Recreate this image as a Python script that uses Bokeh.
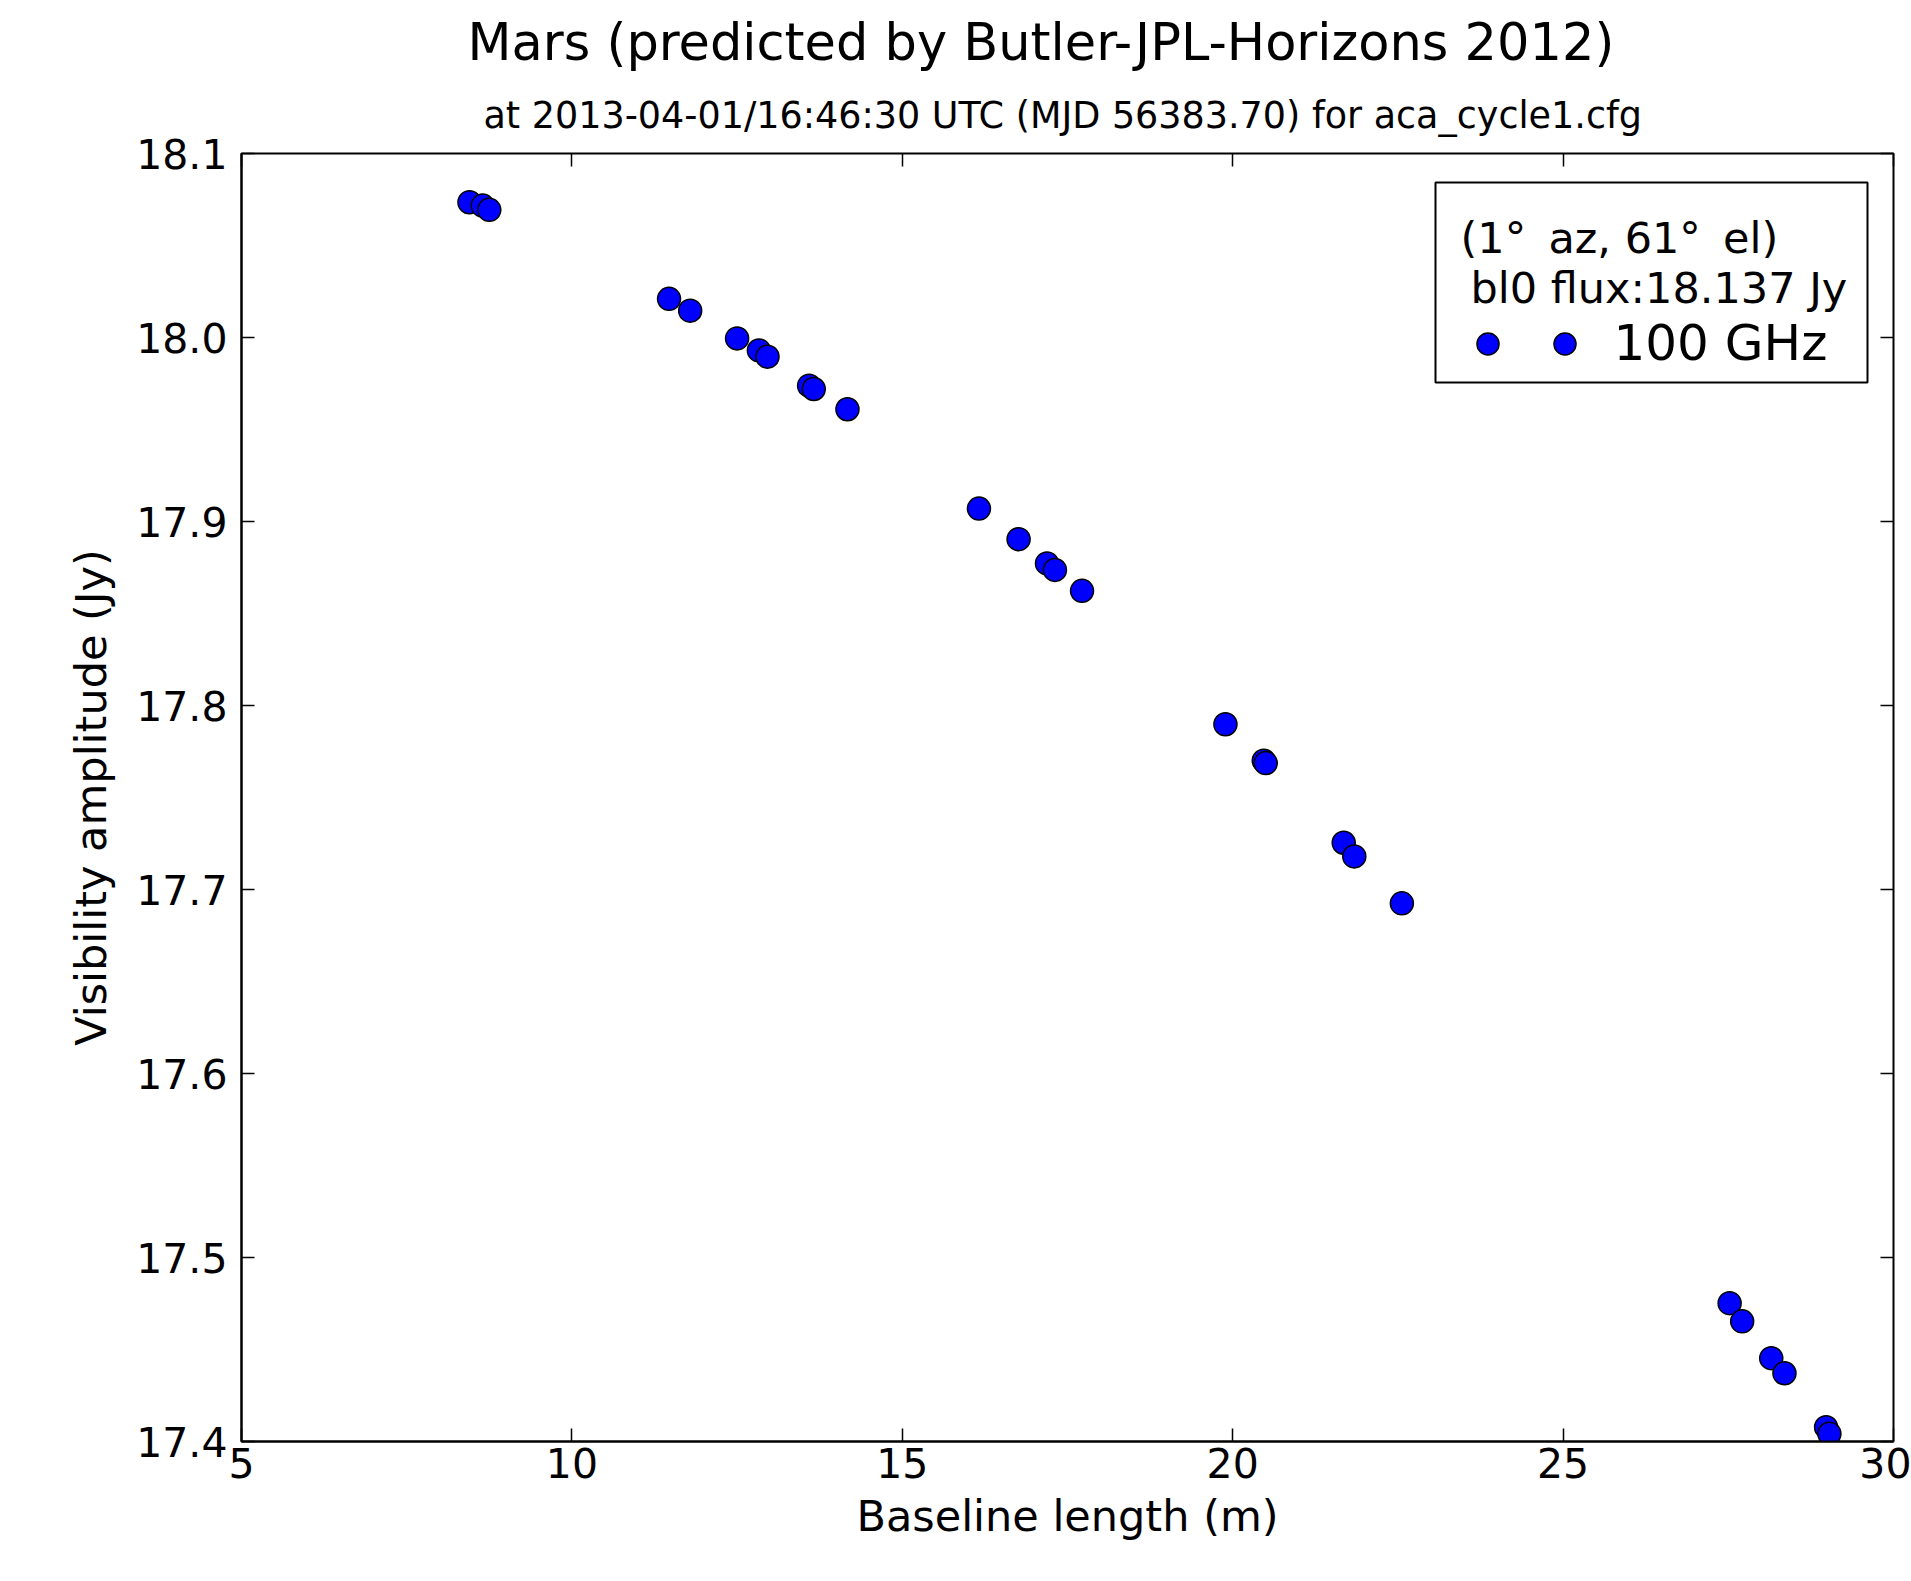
from bokeh.plotting import figure
from bokeh.models import (Range1d, FixedTicker, PrintfTickFormatter, LinearAxis, Title,
                          Legend, LegendItem, ColumnDataSource, Label, BoxAnnotation)
from bokeh.embed import file_html
from bokeh.resources import INLINE

# ---- data ----
baseline_m = [8.45, 8.65, 8.75, 11.47, 11.79, 12.50, 12.83, 12.96, 13.59, 13.66, 14.17,
              16.16, 16.76, 17.19, 17.31, 17.72, 19.89, 20.47, 20.50, 21.68, 21.84, 22.56,
              27.52, 27.71, 28.15, 28.35, 28.98, 29.03]
amp_jy = [18.0735, 18.0717, 18.0694, 18.0210, 18.0146, 17.9995, 17.9930, 17.9896, 17.9738,
          17.9720, 17.9610, 17.9070, 17.8904, 17.8772, 17.8737, 17.8623, 17.7898, 17.7700,
          17.7687, 17.7254, 17.7180, 17.6925, 17.4752, 17.4653, 17.4453, 17.4371, 17.4078,
          17.4042]
x_ticks = [5, 10, 15, 20, 25, 30]
y_ticks = [17.4, 17.5, 17.6, 17.7, 17.8, 17.9, 18.0, 18.1]
series_label = "100 GHz"
legend_line1 = "(1\u00b0\u2009 az, 61\u00b0\u2009 el)"
legend_line2 = "bl0 flux:18.137 Jy"
title_text = "Mars (predicted by Butler-JPL-Horizons 2012)"
subtitle_text = "at 2013-04-01/16:46:30 UTC (MJD 56383.70) for aca_cycle1.cfg"

FONT = "DejaVu Sans"
TXT = "#000000"

X0, X1 = 5, 30
Y0, Y1 = 17.4, 18.1
FL, FR, FT, FB = 241, 1893, 153, 1441   # frame edges in page pixels


def px2x(px):
    return X0 + (px - FL) * (X1 - X0) / (FR - FL)


def py2y(py):
    return Y1 - (py - FT) * (Y1 - Y0) / (FB - FT)


p = figure(width=1911, height=1575, output_backend="svg", toolbar_location=None,
           x_range=Range1d(X0, X1), y_range=Range1d(Y0, Y1),
           min_border_left=FL, min_border_right=1911 - FR, min_border_top=FT,
           min_border_bottom=1575 - FB)
p.title.visible = False
p.xgrid.visible = False
p.ygrid.visible = False
p.outline_line_color = "black"
p.outline_line_width = 2

xax = p.below[0]
yax = p.left[0]

# mirrored ticks on top and right (no labels)
top_ax = LinearAxis(ticker=FixedTicker(ticks=x_ticks), major_tick_in=13, major_tick_out=0,
                    minor_tick_line_color=None, axis_line_color=None,
                    major_label_text_font_size="0px", major_label_text_color=None,
                    major_label_standoff=0, major_tick_line_width=1.5)
right_ax = LinearAxis(ticker=FixedTicker(ticks=y_ticks), major_tick_in=13, major_tick_out=0,
                      minor_tick_line_color=None, axis_line_color=None,
                      major_label_text_font_size="0px", major_label_text_color=None,
                      major_label_standoff=0, major_tick_line_width=1.5)
p.add_layout(top_ax, "above")
p.add_layout(right_ax, "right")

sub = Title(text=subtitle_text, align="left", offset=242, text_font=FONT,
            text_font_size="36.5px", text_font_style="normal", text_color=TXT, standoff=33)
main = Title(text=title_text, align="left", offset=226, text_font=FONT,
             text_font_size="51px", text_font_style="normal", text_color=TXT, standoff=7)
p.add_layout(sub, "above")
p.add_layout(main, "above")

src = ColumnDataSource(dict(x=baseline_m, y=amp_jy))
r = p.scatter("x", "y", source=src, size=23, fill_color="#0000ff", line_color="black",
              line_width=1.5)

for ax in (xax, yax):
    ax.major_tick_in = 13
    ax.major_tick_out = 0
    ax.minor_tick_line_color = None
    ax.axis_line_width = 2
    ax.major_tick_line_width = 1.5
    ax.major_label_text_font = FONT
    ax.major_label_text_font_size = "41px"
    ax.major_label_text_color = TXT
    ax.axis_label_text_font = FONT
    ax.axis_label_text_font_size = "43px"
    ax.axis_label_text_font_style = "normal"
    ax.axis_label_text_color = TXT

xax.ticker = FixedTicker(ticks=x_ticks)
xax.formatter = PrintfTickFormatter(format="%d")
xax.axis_label = "Baseline length (m)"
xax.major_label_standoff = 6
xax.axis_label_standoff = 10

yax.ticker = FixedTicker(ticks=y_ticks)
yax.formatter = PrintfTickFormatter(format="%.1f")
yax.axis_label = "Visibility amplitude (Jy)"
yax.major_label_standoff = 14
yax.axis_label_standoff = 17

# legend frame and text lines
box = BoxAnnotation(left=px2x(1435), right=px2x(1867), top=py2y(182), bottom=py2y(382),
                    fill_color="white", fill_alpha=1.0, line_color="black", line_width=2,
                    line_alpha=1.0)
p.add_layout(box)
p.add_layout(Label(x=px2x(1460), y=py2y(237), text=legend_line1, text_font=FONT,
                   text_font_size="43px", text_color=TXT, text_baseline="alphabetic"))
p.add_layout(Label(x=px2x(1470), y=py2y(287), text=legend_line2, text_font=FONT,
                   text_font_size="43px", text_color=TXT, text_baseline="alphabetic"))

legend = Legend(items=[LegendItem(label="", renderers=[r]),
                       LegendItem(label=series_label, renderers=[r])],
                orientation="horizontal", location=(1459.5 - FL, FB - 372),
                label_text_font=FONT, label_text_font_size="50px", label_text_color=TXT,
                glyph_width=55, glyph_height=55, label_standoff=22, label_width=0,
                spacing=0, padding=0, margin=0, border_line_color=None,
                background_fill_alpha=0.0)
p.add_layout(legend, "center")

open("out.html", "w").write(file_html(p, INLINE))
